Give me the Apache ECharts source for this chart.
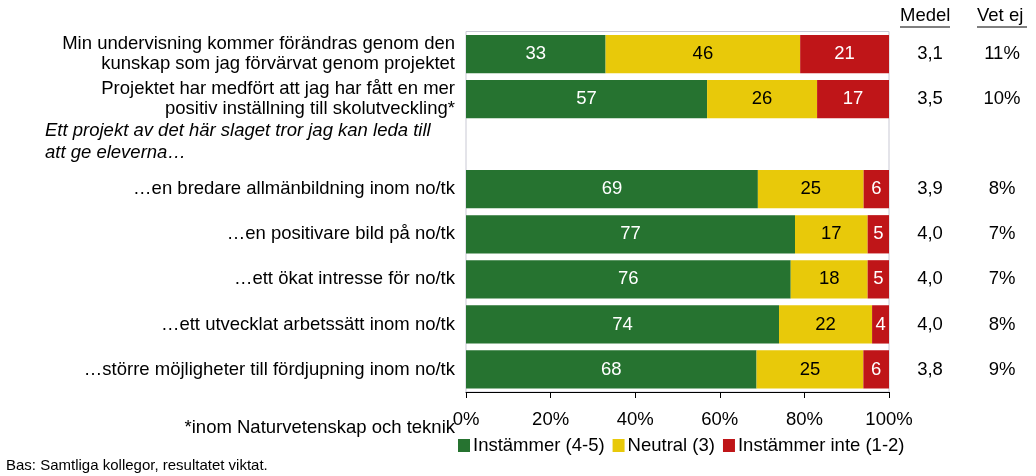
<!DOCTYPE html>
<html><head><meta charset="utf-8">
<script src="https://cdn.jsdelivr.net/npm/echarts@6/dist/echarts.min.js"></script>
<style>html,body{margin:0;padding:0;background:#fff}#c{width:1036px;height:476px}</style>
</head><body><div id="c"></div>
<script>
const categories = [
  'Min undervisning kommer förändras genom den\nkunskap som jag förvärvat genom projektet',
  'Projektet har medfört att jag har fått en mer\npositiv inställning till skolutveckling*',
  'Ett projekt av det här slaget tror jag kan leda till\natt ge eleverna…',
  '…en bredare allmänbildning inom no/tk',
  '…en positivare bild på no/tk',
  '…ett ökat intresse för no/tk',
  '…ett utvecklat arbetssätt inom no/tk',
  '…större möjligheter till fördjupning inom no/tk'
];
const headingIndex = 2;
const seriesNames = ['Instämmer (4-5)', 'Neutral (3)', 'Instämmer inte (1-2)'];
const agree    = [33, 57, null, 69, 77, 76, 74, 68];
const neutral  = [46, 26, null, 25, 17, 18, 22, 25];
const disagree = [21, 17, null, 6, 5, 5, 4, 6];
const medel = ['3,1', '3,5', '', '3,9', '4,0', '4,0', '4,0', '3,8'];
const vetEj = ['11%', '10%', '', '8%', '7%', '7%', '8%', '9%'];
const xTicks = [0, 20, 40, 60, 80, 100];
const colors = ['#267330', '#E8C90A', '#BF1518'];

const FONT = '"Liberation Sans", Arial, sans-serif';
const FS = 18.5;
const raw = [agree, neutral, disagree];
const sums = agree.map((v, i) => v == null ? null : agree[i] + neutral[i] + disagree[i]);
const share = arr => arr.map((v, i) => v == null ? null : v / sums[i] * 100);

const chart = echarts.init(document.getElementById('c'));
const series = raw.map((arr, k) => ({
  name: seriesNames[k],
  type: 'bar',
  stack: 'total',
  data: share(arr),
  barCategoryGap: '15%',
  itemStyle: { color: colors[k] },
  label: {
    show: true,
    position: 'inside',
    fontFamily: FONT,
    fontSize: FS,
    color: k === 1 ? '#000' : '#fff',
    formatter: p => raw[k][p.dataIndex] == null ? '' : String(raw[k][p.dataIndex])
  }
}));

chart.setOption({
  animation: false,
  textStyle: { fontFamily: FONT },
  grid: { left: 466, right: 147, top: 31.5, bottom: 84, show: true, borderColor: '#c9c9d4', borderWidth: 1 },
  xAxis: {
    type: 'value', min: 0, max: 100, interval: 20,
    axisLine: { show: true, lineStyle: { color: '#000', width: 1 } },
    axisTick: { show: true, length: 6, lineStyle: { color: '#000' } },
    splitLine: { show: false },
    axisLabel: { fontFamily: FONT, fontSize: FS, color: '#000', margin: 18,
      formatter: v => xTicks.includes(v) ? v + '%' : '' }
  },
  yAxis: [{
    type: 'category', data: categories, inverse: true,
    axisLine: { show: false }, axisTick: { show: false },
    axisLabel: {
      fontFamily: FONT, fontSize: FS, color: '#000', margin: 11, lineHeight: 20,
      formatter: (v, i) => i === headingIndex
        ? v.split('\n').map(s => '{h|' + s + '}').join('\n')
        : v,
      rich: { h: { fontStyle: 'italic', fontSize: FS, width: 410, align: 'left', lineHeight: 22, fontFamily: FONT, color: '#000', padding: [0, 0, 4, 0] } }
    }
  }, {
    type: 'category', data: categories, inverse: true, position: 'right',
    axisLine: { show: false }, axisTick: { show: false },
    axisLabel: {
      margin: 18,
      formatter: (v, i) => '{m|' + medel[i] + '}{v|' + vetEj[i] + '}',
      rich: {
        m: { width: 46, align: 'center', fontSize: FS, fontFamily: FONT, color: '#000' },
        v: { width: 98, align: 'center', fontSize: FS, fontFamily: FONT, color: '#000' }
      }
    }
  }],
  legend: {
    left: 453, top: 431, itemWidth: 12, itemHeight: 13, itemGap: 8,
    icon: 'rect', data: seriesNames,
    textStyle: { fontFamily: FONT, fontSize: FS, color: '#000', padding: [0, 0, 0, -2] }
  },
  graphic: [
    { type: 'text', left: 900, top: 6, style: { text: 'Medel', fontFamily: FONT, fontSize: FS, fill: '#000' } },
    { type: 'line', shape: { x1: 900, y1: 27, x2: 950, y2: 27 }, style: { stroke: '#000', lineWidth: 1 } },
    { type: 'text', left: 977, top: 6, style: { text: 'Vet ej', fontFamily: FONT, fontSize: FS, fill: '#000' } },
    { type: 'line', shape: { x1: 977, y1: 27, x2: 1027, y2: 27 }, style: { stroke: '#000', lineWidth: 1 } },
    { type: 'text', right: 581, top: 418, style: { text: '*inom Naturvetenskap och teknik', fontFamily: FONT, fontSize: FS, fill: '#000' } },
    { type: 'text', left: 6, top: 458, style: { text: 'Bas: Samtliga kollegor, resultatet viktat.', fontFamily: FONT, fontSize: 15, fill: '#000' } }
  ],
  series: series
});
</script></body></html>
